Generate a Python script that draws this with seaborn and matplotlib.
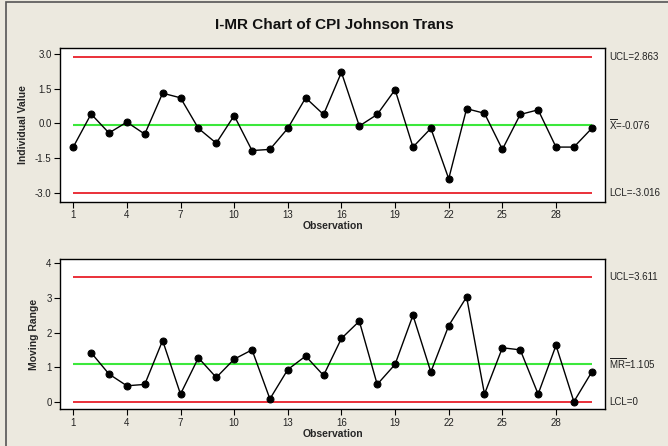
import numpy as np
import pandas as pd
import seaborn as sns
import matplotlib
matplotlib.use("Agg")
from matplotlib import pyplot as plt
from matplotlib.patches import Rectangle

# values
obs = list(range(1, 31))
individual = [-1.03, 0.40, -0.42, 0.05, -0.47, 1.30, 1.10, -0.22, -0.86, 0.33,
              -1.18, -1.13, -0.22, 1.10, 0.38, 2.20, -0.12, 0.38, 1.45, -1.03,
              -0.22, -2.40, 0.63, 0.43, -1.13, 0.38, 0.58, -1.03, -1.03, -0.22]
mr_obs = list(range(2, 31))
moving_range = [1.42, 0.80, 0.46, 0.50, 1.77, 0.22, 1.27, 0.70, 1.23, 1.50,
                0.08, 0.93, 1.32, 0.76, 1.83, 2.33, 0.50, 1.08, 2.50, 0.86,
                2.20, 3.03, 0.22, 1.56, 1.50, 0.22, 1.63, 0.00, 0.86]

i_limits = {"UCL": 2.863, "CL": -0.076, "LCL": -3.016}
mr_limits = {"UCL": 3.611, "CL": 1.105, "LCL": 0.0}

xticks = [1, 4, 7, 10, 13, 16, 19, 22, 25, 28]
i_yticks = [3.0, 1.5, 0.0, -1.5, -3.0]
mr_yticks = [0, 1, 2, 3, 4]

bg = "#ECE9DF"
red = "#E8202A"
green = "#3CE83C"

sns.set_theme(style="white")
plt.rcParams["font.family"] = ["Liberation Sans", "DejaVu Sans"]
plt.rcParams["mathtext.fontset"] = "custom"
plt.rcParams["mathtext.rm"] = "Liberation Sans"

fig = plt.figure(figsize=(6.68, 4.46), dpi=100, facecolor=bg)
fig.patches.append(Rectangle((0.009, -0.01), 1.0, 1.006, transform=fig.transFigure,
                             fill=False, edgecolor="#555555", linewidth=1.2))

ax1 = fig.add_axes([0.0898, 0.5478, 0.8159, 0.3439])
ax2 = fig.add_axes([0.0898, 0.0823, 0.8159, 0.3363])

df_i = pd.DataFrame({"Observation": obs, "value": individual})
df_mr = pd.DataFrame({"Observation": mr_obs, "value": moving_range})


def draw_panel(ax, df, limits, yticks, ylim, ylabel, labels, fmt):
    ax.set_facecolor("white")
    ax.hlines([limits["UCL"], limits["LCL"]], 1, 30, color=red, linewidth=1.3, zorder=1)
    ax.hlines(limits["CL"], 1, 30, color=green, linewidth=1.5, zorder=1)
    sns.lineplot(data=df, x="Observation", y="value", ax=ax, color="black",
                 linewidth=1.0, marker="o", markersize=5, markeredgecolor="black",
                 zorder=3)
    ax.set_xlim(0.26, 30.74)
    ax.set_ylim(*ylim)
    ax.set_xticks(xticks)
    ax.set_yticks(yticks)
    ax.set_yticklabels([fmt.format(v) for v in yticks])
    ax.tick_params(axis="both", direction="out", length=4, width=0.8,
                   labelsize=7, color="black", labelcolor="#222222", pad=2,
                   left=True, bottom=True)
    for s in ax.spines.values():
        s.set_color("black")
        s.set_linewidth(1.0)
    ax.set_xlabel("Observation", fontsize=7.5, fontweight="bold", labelpad=1)
    ax.set_ylabel(ylabel, fontsize=7.5, fontweight="bold", labelpad=5)
    for key, txt in labels.items():
        ax.text(1.008, limits[key], txt, transform=ax.get_yaxis_transform(),
                fontsize=7, va="center", ha="left", color="#222222")


draw_panel(ax1, df_i, i_limits, i_yticks, (-3.39, 3.24), "Individual Value",
           {"UCL": "UCL=2.863", "CL": r"$\overline{\mathrm{X}}$=-0.076", "LCL": "LCL=-3.016"},
           "{:.1f}")
draw_panel(ax2, df_mr, mr_limits, mr_yticks, (-0.22, 4.12), "Moving Range",
           {"UCL": "UCL=3.611", "CL": r"$\overline{\mathrm{MR}}$=1.105", "LCL": "LCL=0"},
           "{:d}")

fig.text(0.5, 0.945, "I-MR Chart of CPI Johnson Trans", ha="center", va="center",
         fontsize=11, fontweight="bold", color="#111111")

fig.savefig("out.png", dpi=100, facecolor=bg)
